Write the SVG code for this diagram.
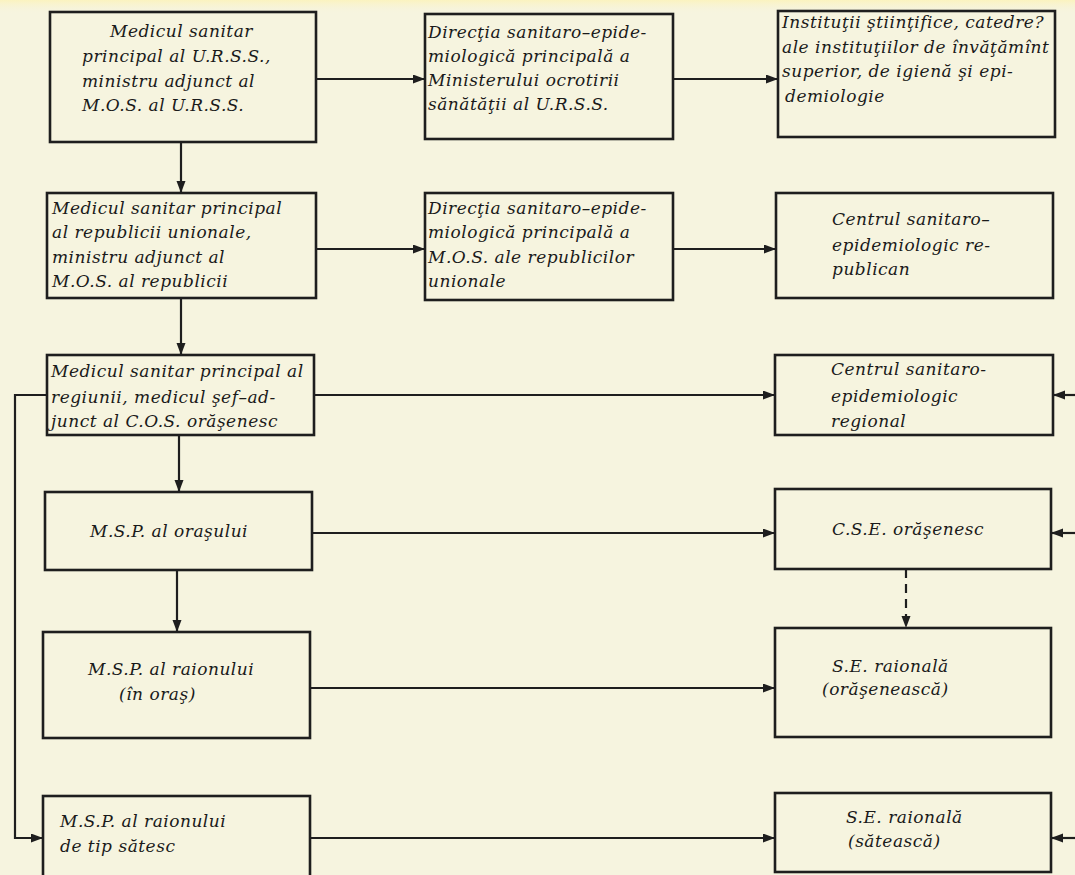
<svg xmlns="http://www.w3.org/2000/svg" width="1075" height="875" viewBox="0 0 1075 875">
<defs>
<marker id="ah" markerUnits="userSpaceOnUse" markerWidth="13" markerHeight="10" refX="12" refY="4.5" orient="auto">
<path d="M0,0 L12,4.5 L0,9 Z" fill="#1e1e1e"/>
</marker>
<linearGradient id="topband" x1="0" y1="0" x2="0" y2="1">
<stop offset="0" stop-color="#fbf3bf"/>
<stop offset="1" stop-color="#f6f4df" stop-opacity="0"/>
</linearGradient>
</defs>
<style>
.box{fill:none;stroke:#1e1e1e;stroke-width:2.6}
.ln{fill:none;stroke:#1e1e1e;stroke-width:2.2;marker-end:url(#ah)}
.dash{stroke-dasharray:9 6}
text{font-family:"DejaVu Serif","Liberation Serif",serif;font-style:italic;font-size:17px;letter-spacing:0.5px;fill:#1a1a1a}
</style>
<rect x="0" y="0" width="1075" height="875" fill="#f6f4df"/>
<rect x="0" y="0" width="1075" height="14" fill="url(#topband)"/>
<g id="connectors">
<line class="ln" x1="316" y1="79" x2="425" y2="79"/>
<line class="ln" x1="673" y1="79" x2="778" y2="79"/>
<line class="ln" x1="181" y1="142" x2="181" y2="193"/>
<line class="ln" x1="316" y1="249" x2="425" y2="249"/>
<line class="ln" x1="673" y1="249" x2="776" y2="249"/>
<line class="ln" x1="181" y1="298" x2="181" y2="355"/>
<line class="ln" x1="314" y1="395" x2="775" y2="395"/>
<line class="ln" x1="179" y1="435" x2="179" y2="492"/>
<line class="ln" x1="312" y1="533" x2="775" y2="533"/>
<line class="ln" x1="177" y1="570" x2="177" y2="632"/>
<line class="ln" x1="310" y1="688" x2="775" y2="688"/>
<polyline class="ln" points="47,395 15,395 15,838 43,838"/>
<line class="ln" x1="310" y1="838" x2="775" y2="838"/>
<line class="ln dash" x1="906" y1="569" x2="906" y2="628"/>
<line class="ln" x1="1075" y1="395" x2="1053" y2="395"/>
<line class="ln" x1="1075" y1="533" x2="1051" y2="533"/>
<line class="ln" x1="1075" y1="838" x2="1051" y2="838"/>
</g>
<g id="n1">
<rect class="box" x="50" y="12" width="266" height="130"/>
<text x="110" y="37">Medicul sanitar</text>
<text x="82" y="62">principal al U.R.S.S.,</text>
<text x="82" y="87">ministru adjunct al</text>
<text x="82" y="111">M.O.S. al U.R.S.S.</text>
</g>
<g id="n2">
<rect class="box" x="425" y="14" width="248" height="125"/>
<text x="428" y="38">Direcţia sanitaro–epide-</text>
<text x="428" y="62">miologică principală a</text>
<text x="428" y="86">Ministerului ocrotirii</text>
<text x="428" y="110">sănătăţii al U.R.S.S.</text>
</g>
<g id="n3">
<rect class="box" x="778" y="11" width="277" height="126"/>
<text x="782" y="28">Instituţii ştiinţifice, catedre?</text>
<text x="782" y="53">ale instituţiilor de învăţămînt</text>
<text x="782" y="77">superior, de igienă şi epi-</text>
<text x="785" y="102">demiologie</text>
</g>
<g id="n4">
<rect class="box" x="47" y="193" width="269" height="105"/>
<text x="52" y="214">Medicul sanitar  principal</text>
<text x="52" y="238">al republicii unionale,</text>
<text x="52" y="263">ministru adjunct al</text>
<text x="52" y="287">M.O.S. al republicii</text>
</g>
<g id="n5">
<rect class="box" x="425" y="193" width="248" height="107"/>
<text x="428" y="214">Direcţia sanitaro–epide-</text>
<text x="428" y="238">miologică principală a</text>
<text x="428" y="263">M.O.S. ale republicilor</text>
<text x="428" y="287">unionale</text>
</g>
<g id="n6">
<rect class="box" x="776" y="193" width="277" height="105"/>
<text x="832" y="225">Centrul sanitaro–</text>
<text x="832" y="251">epidemiologic re-</text>
<text x="832" y="275">publican</text>
</g>
<g id="n7">
<rect class="box" x="47" y="355" width="267" height="80"/>
<text x="51" y="377">Medicul sanitar  principal al</text>
<text x="51" y="403">regiunii, medicul şef–ad-</text>
<text x="51" y="427">junct al C.O.S. orăşenesc</text>
</g>
<g id="n8">
<rect class="box" x="775" y="355" width="278" height="80"/>
<text x="831" y="375">Centrul sanitaro-</text>
<text x="831" y="402">epidemiologic</text>
<text x="831" y="427">regional</text>
</g>
<g id="n9">
<rect class="box" x="45" y="492" width="267" height="78"/>
<text x="90" y="537">M.S.P. al oraşului</text>
</g>
<g id="n10">
<rect class="box" x="775" y="489" width="276" height="80"/>
<text x="832" y="535">C.S.E. orăşenesc</text>
</g>
<g id="n11">
<rect class="box" x="43" y="632" width="267" height="106"/>
<text x="88" y="675">M.S.P. al raionului</text>
<text x="119" y="700">(în oraş)</text>
</g>
<g id="n12">
<rect class="box" x="775" y="628" width="276" height="109"/>
<text x="832" y="672">S.E. raională</text>
<text x="822" y="695">(orăşenească)</text>
</g>
<g id="n13">
<rect class="box" x="43" y="796" width="267" height="90"/>
<text x="60" y="827">M.S.P. al raionului</text>
<text x="60" y="852">de tip sătesc</text>
</g>
<g id="n14">
<rect class="box" x="775" y="793" width="276" height="79"/>
<text x="846" y="823">S.E. raională</text>
<text x="848" y="847">(sătească)</text>
</g>
</svg>
